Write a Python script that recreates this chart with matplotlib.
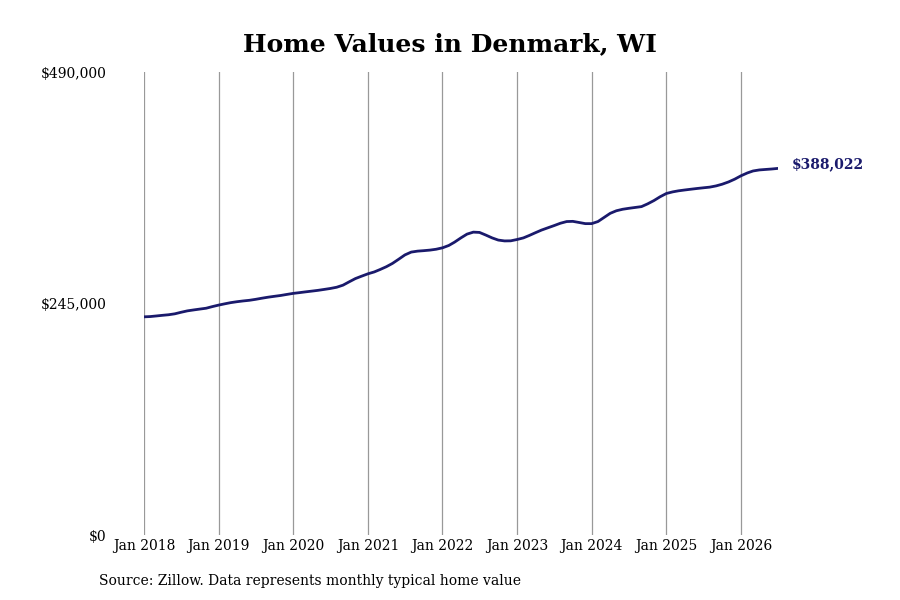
import numpy as np
import pandas as pd
import matplotlib
matplotlib.use('Agg')
import matplotlib.pyplot as plt
from matplotlib.ticker import FuncFormatter

plt.rcParams['font.family'] = 'DejaVu Serif'

# Monthly typical home value, Jan 2018 - Jul 2026
values_2018 = [231000, 231300, 231900, 232600, 233200, 234200, 235800, 237300, 238300, 239200, 240100, 241800]
values_2019 = [243400, 244800, 246000, 247000, 247800, 248500, 249500, 250700, 251800, 252700, 253600, 254700]
values_2020 = [255800, 256600, 257400, 258200, 259000, 260000, 261000, 262300, 264500, 268000, 271500, 274000]
values_2021 = [276500, 278500, 281000, 284000, 287500, 292000, 296500, 299500, 300500, 301000, 301600, 302500]
values_2022 = [304000, 306500, 310000, 314500, 318500, 320600, 320300, 317500, 314500, 312200, 311300, 311400]
values_2023 = [312800, 314500, 317000, 320000, 322800, 325200, 327500, 330000, 331800, 332000, 330800, 329600]
values_2024 = [329600, 331800, 336000, 340500, 343200, 344800, 345800, 346700, 347600, 350500, 354000, 358000]
values_2025 = [361500, 363200, 364300, 365200, 366000, 366800, 367500, 368200, 369500, 371300, 373700, 376600]
values_2026 = [380200, 383200, 385300, 386400, 386900, 387400, 388022]

values = (values_2018 + values_2019 + values_2020 + values_2021 + values_2022
          + values_2023 + values_2024 + values_2025 + values_2026)
dates = pd.date_range('2018-01-01', periods=len(values), freq='MS')

years = list(range(2018, 2027))
y_ticks = [0, 245000, 490000]

line_color = '#1a1a6c'

fig = plt.figure(figsize=(9, 6), dpi=100)
ax = fig.add_axes([0.16, 0.108, 0.7044, 0.772])

ax.plot(dates, values, color=line_color, linewidth=2.0, solid_capstyle='round')

ax.set_ylim(0, 490000)
ax.set_xlim(dates[0], dates[-1])
ax.set_yticks(y_ticks)
ax.yaxis.set_major_formatter(FuncFormatter(lambda v, p: f'${v:,.0f}'))

ax.set_xticks([pd.Timestamp(f'{y}-01-01') for y in years])
ax.set_xticklabels([f'Jan {y}' for y in years])
ax.grid(axis='x', color='#999999', linewidth=0.9)
ax.set_axisbelow(True)

for s in ax.spines.values():
    s.set_visible(False)
ax.tick_params(axis='both', length=0, labelsize=10)
ax.tick_params(axis='y', pad=27)
ax.tick_params(axis='x', pad=3)

ax.annotate(f'${values[-1]:,}', xy=(dates[-1], values[-1]), xytext=(10, 3),
            textcoords='offset points', va='center', ha='left',
            fontsize=10, fontweight='bold', color=line_color, annotation_clip=False)

fig.suptitle('Home Values in Denmark, WI', fontsize=18, fontweight='bold', y=0.947)
fig.text(0.11, 0.025, 'Source: Zillow. Data represents monthly typical home value', fontsize=10)

fig.savefig('out.png', dpi=100)
